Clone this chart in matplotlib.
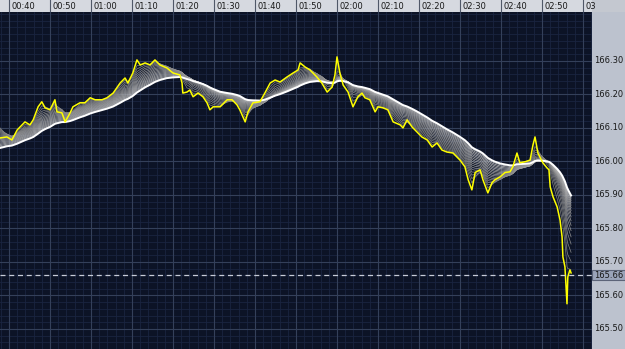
import numpy as np
import matplotlib
matplotlib.use("Agg")
import matplotlib.pyplot as plt

# price trace (minutes after midnight, price)
minutes = [37.8, 39.5, 40.7, 42.0, 43.2, 43.9, 45.1, 45.9, 47.1, 48.0,
           48.8, 50.0, 51.2, 51.7, 52.9, 53.7, 54.9, 55.6, 57.3, 58.5,
           59.8, 61.0, 62.7, 63.9, 65.4, 67.1, 68.3, 69.0, 70.2, 71.2,
           72.0, 73.2, 74.4, 75.6, 76.8, 78.5, 80.0, 81.7, 82.2, 82.4,
           83.4, 84.1, 84.9, 86.1, 87.3, 88.3, 89.0, 89.8, 91.5, 93.2,
           94.4, 95.6, 96.3, 97.6, 98.3, 99.5, 101.2, 102.4, 103.7, 104.9,
           106.1, 107.8, 109.3, 110.5, 111.0, 112.2, 113.4, 115.1, 116.3, 117.6,
           118.8, 119.5, 120.0, 120.7, 121.5, 122.7, 123.9, 125.1, 126.1, 126.8,
           128.0, 129.3, 130.0, 131.2, 132.4, 133.7, 135.4, 136.1, 137.1, 138.3,
           139.5, 140.7, 142.0, 143.2, 144.4, 145.6, 146.8, 148.3, 150.0, 151.2,
           152.0, 152.9, 153.7, 154.9, 155.6, 156.8, 157.8, 158.5, 159.8, 161.0,
           162.2, 162.9, 163.9, 164.6, 165.9, 167.1, 167.8, 168.3, 169.0, 170.2,
           171.2, 171.7, 172.0, 172.7, 173.7, 174.4, 174.9, 175.1, 175.6, 176.1,
           176.3, 176.8, 177.1]
prices = [166.070, 166.073, 166.064, 166.094, 166.109, 166.118, 166.109, 166.124, 166.163, 166.178,
          166.160, 166.154, 166.184, 166.148, 166.145, 166.118, 166.145, 166.163, 166.175, 166.175,
          166.190, 166.184, 166.184, 166.190, 166.204, 166.234, 166.249, 166.234, 166.264, 166.303,
          166.288, 166.294, 166.288, 166.303, 166.288, 166.279, 166.264, 166.258, 166.234, 166.204,
          166.207, 166.213, 166.193, 166.204, 166.193, 166.175, 166.154, 166.163, 166.163, 166.184,
          166.184, 166.169, 166.154, 166.118, 166.148, 166.175, 166.178, 166.204, 166.234, 166.243,
          166.237, 166.252, 166.264, 166.273, 166.294, 166.282, 166.273, 166.252, 166.234, 166.207,
          166.222, 166.258, 166.312, 166.264, 166.228, 166.207, 166.163, 166.193, 166.204, 166.190,
          166.184, 166.148, 166.163, 166.160, 166.154, 166.118, 166.109, 166.100, 166.124, 166.103,
          166.088, 166.073, 166.064, 166.043, 166.055, 166.034, 166.028, 166.025, 166.004, 165.984,
          165.945, 165.915, 165.967, 165.975, 165.945, 165.906, 165.936, 165.945, 165.954, 165.967,
          165.969, 165.984, 166.025, 165.996, 165.999, 166.004, 166.049, 166.073, 166.025, 165.996,
          165.981, 165.975, 165.924, 165.894, 165.864, 165.825, 165.775, 165.715, 165.685, 165.575,
          165.655, 165.676, 165.667]

# moving-average ribbon: time constants (min) and start levels read at left edge
ma_tau = np.linspace(1.0, 10.0, 18)
ma_start = np.linspace(166.10, 166.04, 18)

last_price = 165.66
time_ticks = [40, 50, 60, 70, 80, 90, 100, 110, 120, 130, 140, 150, 160, 170, 180]
time_labels = ["00:40", "00:50", "01:00", "01:10", "01:20", "01:30", "01:40", "01:50",
               "02:00", "02:10", "02:20", "02:30", "02:40", "02:50", "03"]
price_ticks = [165.50, 165.60, 165.70, 165.80, 165.90, 166.00, 166.10, 166.20, 166.30]

BG = "#0c1326"
plt.rcParams["font.family"] = "DejaVu Sans"
fig = plt.figure(figsize=(6.25, 3.49), dpi=100, facecolor="#c4c8d0")

xl = (37.8, 182.2)
yl = (165.44, 166.446)
px_w = 592 / 625
px_h = 337 / 349

ax = fig.add_axes([0, 0, px_w, px_h], facecolor=BG)
ax.set_xlim(xl)
ax.set_ylim(yl)
for s in ax.spines.values():
    s.set_visible(False)
ax.set_xticks([])
ax.set_yticks([])

# grid
for t in np.arange(38, 183, 2):
    ax.axvline(t, color="#1a2440", lw=0.6, zorder=0)
for p in np.arange(165.44, 166.45, 0.02):
    ax.axhline(p, color="#1a2440", lw=0.6, zorder=0)
for t in time_ticks:
    ax.axvline(t, color="#34405a", lw=0.8, zorder=0)
for p in price_ticks:
    ax.axhline(p, color="#34405a", lw=0.8, zorder=0)

# ribbon of exponential averages over the irregular samples
t_arr = np.array(minutes)
p_arr = np.array(prices)
n = len(ma_tau)
for k in range(n - 1, -1, -1):
    ema = np.empty_like(p_arr)
    ema[0] = ma_start[k]
    for i in range(1, len(p_arr)):
        a = 1 - np.exp(-(t_arr[i] - t_arr[i - 1]) / ma_tau[k])
        ema[i] = ema[i - 1] + a * (p_arr[i] - ema[i - 1])
    if k == n - 1:
        ax.plot(t_arr, ema, color="white", lw=1.4, zorder=3)
    else:
        g = 0.5 + 0.3 * k / (n - 1)
        ax.plot(t_arr, ema, color=(g, g, g), lw=0.5, zorder=2)

ax.plot(minutes, prices, color="#ffff00", lw=1.1, zorder=4)
ax.axhline(last_price, color="#c8ccd8", lw=0.9, ls=(0, (4, 3)), zorder=5)

# top time bar
axt = fig.add_axes([0, px_h, px_w, 1 - px_h], facecolor="#d6d9e0")
axt.set_xlim(xl)
axt.set_ylim(0, 1)
axt.set_xticks([])
axt.set_yticks([])
for s in axt.spines.values():
    s.set_visible(False)
for t, lab in zip(time_ticks, time_labels):
    axt.axvline(t, color="#505868", lw=0.8)
    axt.text(t + 0.5, 0.45, lab, fontsize=6, color="#181818", va="center", ha="left")

# right price panel
axr = fig.add_axes([px_w, 0, 1 - px_w, px_h], facecolor="#bcc2ce")
axr.set_xlim(0, 1)
axr.set_ylim(yl)
axr.set_xticks([])
axr.set_yticks([])
for s in axr.spines.values():
    s.set_visible(False)
for p in price_ticks:
    axr.text(0.5, p, f"{p:.2f}", fontsize=6, color="#181818", va="center", ha="center")
axr.axhspan(last_price - 0.015, last_price + 0.015, fc="#9aa4ba", ec="#5c6478", lw=0.8)
axr.text(0.5, last_price, f"{last_price:.2f}", fontsize=6, color="#181818",
         va="center", ha="center")

fig.savefig("out.png", dpi=100, facecolor=fig.get_facecolor())
